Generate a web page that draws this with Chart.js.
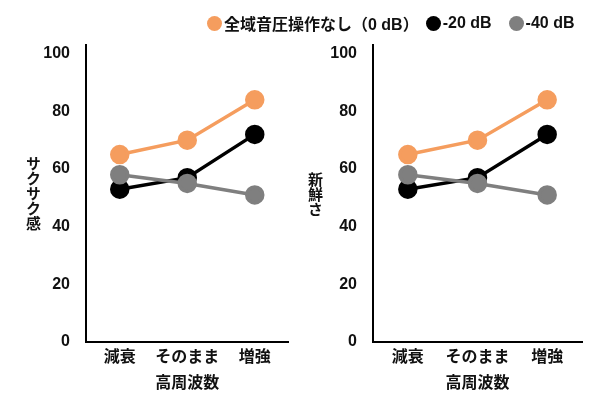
<!DOCTYPE html>
<html>
<head>
<meta charset="utf-8">
<script src="https://cdn.jsdelivr.net/npm/chart.js@4"></script>
<style>
  body { margin: 0; background: #fff; }
  #wrap { position: relative; width: 600px; height: 400px; overflow: hidden;
    font-family: "Liberation Sans", "Noto Sans CJK JP", sans-serif; font-weight: bold; color: #111; }
  .panel { position: absolute; top: 0; width: 300px; height: 400px; }
  #legend { position: absolute; top: 11px; left: 207px; display: flex; align-items: center; font-size: 16px; white-space: nowrap; }
  #legend .item { display: flex; align-items: center; margin-right: 7px; }
  #legend .dot { width: 15px; height: 15px; border-radius: 50%; margin-right: 2px; }
  .ytitle { position: absolute; writing-mode: vertical-rl; text-orientation: upright; font-size: 15px; line-height: 1; }
</style>
</head>
<body>
<div id="wrap">
  <div class="panel" style="left:0"><canvas id="c1" width="300" height="400"></canvas></div>
  <div class="panel" style="left:300px"><canvas id="c2" width="300" height="400"></canvas></div>
  <div class="ytitle" style="left:25px; top:156px">サクサク感</div>
  <div class="ytitle" style="left:307px; top:172px">新鮮さ</div>
  <div id="legend"></div>
</div>
<script>
var categories = ['減衰', 'そのまま', '増強'];
var seriesNames = ['全域音圧操作なし（0 dB）', '-20 dB', '-40 dB'];
var seriesColors = ['#F59D5E', '#000000', '#7F7F7F'];
var yTicks = [0, 20, 40, 60, 80, 100];
var xTitle = '高周波数';

// サクサク感
var crispy0 = [65, 70, 84];
var crispy20 = [53, 57, 72];
var crispy40 = [58, 55, 51];

// 新鮮さ
var fresh0 = [65, 70, 84];
var fresh20 = [53, 57, 72];
var fresh40 = [58, 55, 51];

var fontFam = '"Liberation Sans", "Noto Sans CJK JP", sans-serif';

// legend
var lg = document.getElementById('legend');
seriesNames.forEach(function(n, i) {
	var it = document.createElement('div');
	it.className = 'item';
	if (i == 1) it.style.marginRight = '17px';
	it.innerHTML = '<span class="dot" style="background:' + seriesColors[i] + '"></span><span>' + n + '</span>';
	lg.appendChild(it);
});

function makeChart(id, values, padLeft, padRight) {
	var ds = values.map(function(v, i) {
		return {
			label: seriesNames[i],
			data: v,
			order: values.length - i,  // grey on top, like the original
			borderColor: seriesColors[i],
			backgroundColor: seriesColors[i],
			pointBackgroundColor: seriesColors[i],
			pointBorderColor: seriesColors[i],
			borderWidth: 3.5,
			pointRadius: 8,
			pointHoverRadius: 8,
			clip: false
		};
	});
	return new Chart(document.getElementById(id), {
		type: 'line',
		data: { labels: categories, datasets: ds },
		options: {
			responsive: false,
			animation: false,
			layout: { padding: { left: padLeft, right: padRight, top: 45, bottom: 0 } },
			plugins: { legend: { display: false }, tooltip: { enabled: false } },
			scales: {
				x: {
					offset: true,
					grid: { display: false, drawTicks: false },
					border: { display: true, color: '#000', width: 2 },
					ticks: { color: '#111', padding: 6, autoSkip: false, maxRotation: 0, minRotation: 0,
						font: { family: fontFam, size: 16, weight: 'bold' } },
					title: { display: true, text: xTitle, color: '#111', padding: { top: 2, bottom: 7 },
						font: { family: fontFam, size: 16, weight: 'bold' } },
					afterFit: function(s) { s.height = 58; }
				},
				y: {
					min: 0,
					max: 103,
					grid: { display: false, drawTicks: false },
					border: { display: true, color: '#000', width: 2 },
					afterBuildTicks: function(s) { s.ticks = yTicks.map(function(v) { return { value: v }; }); },
					ticks: { color: '#111', padding: 16, font: { family: fontFam, size: 16, weight: 'bold' } },
					afterFit: function(s) { s.width = 44; }
				}
			}
		}
	});
}

makeChart('c1', [crispy0, crispy20, crispy40], 42, 7);
makeChart('c2', [fresh0, fresh20, fresh40], 29, 18);
</script>
</body>
</html>
